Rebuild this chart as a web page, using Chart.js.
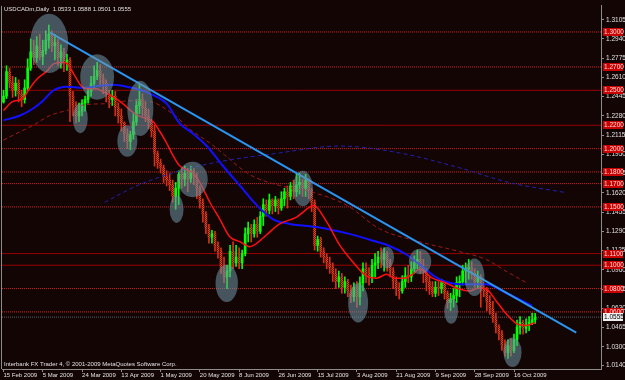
<!DOCTYPE html>
<html lang="en">
<head>
<meta charset="UTF-8">
<title>USDCADm,Daily</title>
<script src="https://cdn.jsdelivr.net/npm/chart.js"></script>
<style>
  html, body { margin: 0; padding: 0; background: #140505; }
  canvas { display: block; }
</style>
</head>
<body>
<canvas id="chart" width="625" height="380"></canvas>
<script>
// x axis labels, one every 13 bars
const dateLabels = ['15 Feb 2009', '5 Mar 2009', '24 Mar 2009', '13 Apr 2009', '1 May 2009', '20 May 2009',
  '8 Jun 2009', '26 Jun 2009', '15 Jul 2009', '3 Aug 2009', '21 Aug 2009', '9 Sep 2009', '28 Sep 2009', '16 Oct 2009'];
const priceTicks = [1.3105, 1.2940, 1.2775, 1.2610, 1.2445, 1.2280, 1.2115, 1.1950, 1.1785, 1.1620,
  1.1455, 1.1290, 1.1125, 1.0960, 1.0795, 1.0630, 1.0465, 1.0300, 1.0140];

// daily bars (open of each bar = previous close)
const firstOpen = 1.240;
const closes = [
  1.245, 1.266, 1.257, 1.250, 1.256, 1.247, 1.242, 1.252, 1.269, 1.283,
  1.278, 1.288, 1.279, 1.284, 1.293, 1.298, 1.288, 1.291, 1.278, 1.283,
  1.274, 1.276, 1.245, 1.237, 1.228, 1.232, 1.239, 1.242, 1.249, 1.256,
  1.262, 1.267, 1.261, 1.256, 1.247, 1.242, 1.245, 1.235, 1.228, 1.222,
  1.213, 1.206, 1.212, 1.223, 1.237, 1.242, 1.235, 1.228, 1.223, 1.215,
  1.196, 1.188, 1.184, 1.176, 1.173, 1.169, 1.159, 1.166, 1.178, 1.174,
  1.179, 1.174, 1.181, 1.176, 1.166, 1.154, 1.144, 1.132, 1.124, 1.127,
  1.117, 1.112, 1.098, 1.090, 1.095, 1.112, 1.102, 1.107, 1.102, 1.110,
  1.127, 1.132, 1.127, 1.135, 1.129, 1.142, 1.152, 1.147, 1.156, 1.151,
  1.156, 1.149, 1.157, 1.163, 1.159, 1.168, 1.163, 1.169, 1.171, 1.166,
  1.173, 1.164, 1.154, 1.117, 1.122, 1.112, 1.107, 1.102, 1.098, 1.093,
  1.086, 1.090, 1.081, 1.086, 1.078, 1.073, 1.081, 1.073, 1.085, 1.097,
  1.093, 1.090, 1.100, 1.102, 1.107, 1.105, 1.110, 1.102, 1.095, 1.086,
  1.080, 1.078, 1.086, 1.091, 1.090, 1.097, 1.102, 1.105, 1.098, 1.095,
  1.086, 1.081, 1.076, 1.081, 1.080, 1.085, 1.076, 1.068, 1.071, 1.074,
  1.085, 1.086, 1.095, 1.097, 1.098, 1.093, 1.086, 1.090, 1.081, 1.078,
  1.069, 1.063, 1.054, 1.047, 1.041, 1.032, 1.025, 1.031, 1.027, 1.036,
  1.047, 1.051, 1.046, 1.049, 1.051, 1.0533, 1.0555
];
const highs = [
  1.250, 1.271, 1.269, 1.262, 1.261, 1.259, 1.250, 1.259, 1.277, 1.294,
  1.293, 1.296, 1.298, 1.293, 1.301, 1.306, 1.301, 1.298, 1.294, 1.289,
  1.286, 1.281, 1.278, 1.249, 1.240, 1.239, 1.242, 1.245, 1.252, 1.262,
  1.271, 1.274, 1.272, 1.264, 1.259, 1.250, 1.250, 1.249, 1.239, 1.234,
  1.223, 1.217, 1.215, 1.230, 1.242, 1.256, 1.247, 1.240, 1.234, 1.225,
  1.220, 1.198, 1.191, 1.186, 1.181, 1.179, 1.173, 1.171, 1.181, 1.183,
  1.185, 1.183, 1.185, 1.183, 1.179, 1.168, 1.157, 1.146, 1.135, 1.130,
  1.129, 1.120, 1.115, 1.107, 1.100, 1.117, 1.120, 1.117, 1.115, 1.113,
  1.132, 1.137, 1.135, 1.139, 1.141, 1.146, 1.157, 1.156, 1.161, 1.157,
  1.159, 1.157, 1.163, 1.166, 1.168, 1.171, 1.173, 1.178, 1.179, 1.174,
  1.178, 1.174, 1.166, 1.156, 1.125, 1.124, 1.115, 1.110, 1.107, 1.102,
  1.097, 1.095, 1.093, 1.090, 1.088, 1.083, 1.085, 1.086, 1.090, 1.102,
  1.102, 1.098, 1.105, 1.110, 1.112, 1.115, 1.115, 1.112, 1.105, 1.098,
  1.090, 1.085, 1.091, 1.098, 1.100, 1.103, 1.108, 1.113, 1.112, 1.105,
  1.097, 1.090, 1.086, 1.086, 1.086, 1.088, 1.086, 1.078, 1.076, 1.080,
  1.090, 1.091, 1.100, 1.102, 1.105, 1.103, 1.097, 1.095, 1.092, 1.085,
  1.081, 1.074, 1.069, 1.059, 1.049, 1.044, 1.036, 1.036, 1.037, 1.041,
  1.053, 1.056, 1.053, 1.054, 1.056, 1.059, 1.0588
];
const lows = [
  1.239, 1.243, 1.252, 1.244, 1.245, 1.240, 1.236, 1.239, 1.250, 1.267,
  1.272, 1.274, 1.276, 1.272, 1.281, 1.286, 1.283, 1.276, 1.271, 1.269,
  1.266, 1.267, 1.223, 1.228, 1.222, 1.223, 1.228, 1.232, 1.239, 1.245,
  1.252, 1.259, 1.254, 1.247, 1.240, 1.235, 1.237, 1.228, 1.222, 1.215,
  1.206, 1.200, 1.199, 1.208, 1.220, 1.230, 1.228, 1.223, 1.217, 1.210,
  1.185, 1.183, 1.179, 1.171, 1.168, 1.164, 1.154, 1.148, 1.152, 1.166,
  1.168, 1.163, 1.171, 1.169, 1.157, 1.149, 1.137, 1.127, 1.119, 1.119,
  1.112, 1.106, 1.093, 1.085, 1.080, 1.090, 1.097, 1.099, 1.097, 1.097,
  1.108, 1.120, 1.120, 1.124, 1.124, 1.127, 1.134, 1.142, 1.144, 1.144,
  1.146, 1.144, 1.147, 1.151, 1.149, 1.156, 1.157, 1.159, 1.161, 1.159,
  1.159, 1.157, 1.146, 1.113, 1.112, 1.107, 1.102, 1.097, 1.093, 1.086,
  1.080, 1.081, 1.076, 1.076, 1.073, 1.068, 1.069, 1.064, 1.066, 1.078,
  1.085, 1.083, 1.085, 1.090, 1.097, 1.098, 1.095, 1.095, 1.090, 1.080,
  1.074, 1.071, 1.076, 1.081, 1.085, 1.086, 1.093, 1.097, 1.093, 1.085,
  1.078, 1.075, 1.073, 1.073, 1.074, 1.076, 1.071, 1.063, 1.061, 1.064,
  1.068, 1.073, 1.083, 1.085, 1.088, 1.088, 1.081, 1.080, 1.064, 1.073,
  1.061, 1.058, 1.051, 1.042, 1.036, 1.027, 1.022, 1.020, 1.022, 1.025,
  1.031, 1.041, 1.041, 1.042, 1.044, 1.049, 1.0501
];

// indicator lines: [bar, price]
const fastMA = [[0, 1.2327], [3, 1.2403], [6.4, 1.2428], [8.1, 1.2496], [11.1, 1.2597], [14.4, 1.2665],
  [16.4, 1.2724], [19.7, 1.2741], [21.3, 1.2724], [23.6, 1.2623], [26, 1.2530], [27.9, 1.2513],
  [30.9, 1.2513], [32.9, 1.2488], [36.2, 1.2445], [39.5, 1.2386], [42.5, 1.2318], [45.1, 1.2276],
  [49.4, 1.2234], [51.7, 1.2149], [54, 1.2048], [56, 1.1946], [58.3, 1.1853], [62.6, 1.1794],
  [65, 1.1709], [68.3, 1.1540], [71.6, 1.1396], [74.9, 1.1244], [78.2, 1.1202], [81.5, 1.1159],
  [84.1, 1.1193], [87.1, 1.1261], [91.4, 1.1354], [97, 1.1413], [101.3, 1.1498], [102.6, 1.1515],
  [107, 1.1371], [111.2, 1.1176], [115.5, 1.1032], [120.2, 1.0906], [123.5, 1.0889], [126.8, 1.0922],
  [129.4, 1.0889], [132.7, 1.0889], [135.4, 1.0922], [137.7, 1.0965], [142, 1.0889], [146.6, 1.0846],
  [150.9, 1.0796], [154.2, 1.0779], [157.5, 1.0804], [159.8, 1.0796], [163.1, 1.0694], [166.4, 1.0584],
  [169.8, 1.0500], [173.1, 1.0483], [176, 1.0508]];
const midMA = [[0, 1.2242], [5.5, 1.2284], [9.8, 1.2344], [13.1, 1.2411], [16.4, 1.2496], [21, 1.2530],
  [26.3, 1.2521], [31.9, 1.2538], [36.2, 1.2547], [40.8, 1.2530], [45.1, 1.2504], [48.4, 1.2471],
  [54, 1.2386], [58.3, 1.2217], [62.6, 1.2132], [67.3, 1.2022], [72.6, 1.1853], [78.2, 1.1684],
  [83.8, 1.1515], [89.1, 1.1396], [94.7, 1.1354], [103.6, 1.1328], [114.5, 1.1269], [121.2, 1.1219],
  [126.8, 1.1176], [133.4, 1.1092], [137.7, 1.1007], [144.3, 1.0880], [150.9, 1.0838], [159.8, 1.0838],
  [166.4, 1.0762], [175, 1.0652]];
const slowMA = [[0, 1.2073], [4.5, 1.2132], [9.8, 1.2200], [15.4, 1.2284], [21, 1.2327], [27.6, 1.2378],
  [35.2, 1.2386], [41.8, 1.2411], [48.4, 1.2403], [56.7, 1.2284], [61.7, 1.2166], [68.3, 1.2048],
  [73.2, 1.1946], [81.5, 1.1777], [91.4, 1.1684], [102.3, 1.1625], [113.6, 1.1515], [124.5, 1.1312],
  [137.7, 1.1202], [150.9, 1.1117], [159.8, 1.1049], [166.4, 1.0948], [173.4, 1.0846]];
const longMA = [[33.5, 1.1540], [45.1, 1.1692], [65, 1.1853], [91.4, 1.1963], [111.2, 1.2022],
  [131.1, 1.1963], [150.9, 1.1836], [167.4, 1.1709], [185.6, 1.1625]];
const trendLine = [[15.4, 1.2995], [189.6, 1.0423]];

const levels = [1.30, 1.27, 1.25, 1.22, 1.20, 1.18, 1.17, 1.15, 1.11, 1.10, 1.08, 1.06];
const solidLevels = [1.25, 1.22, 1.11, 1.10];
const lastPrice = 1.0555;
const headerQuote = ['1.0533', '1.0588', '1.0501', '1.0555'];

// marked zones: [bar, price, half width in bars, half height in price]
const circles = [
  [15.1, 1.2902, 6.3, 0.0254], [31.0, 1.2614, 5.6, 0.0195], [25.4, 1.2259, 2.5, 0.0127],
  [45.3, 1.2344, 4.3, 0.0237], [41.0, 1.2065, 3.3, 0.0135], [62.6, 1.1735, 5.0, 0.0152],
  [57.3, 1.1481, 2.3, 0.0118], [73.9, 1.0846, 3.7, 0.0161], [99.1, 1.1658, 3.3, 0.0152],
  [117.4, 1.0677, 3.3, 0.0169], [127.0, 1.1066, 2.3, 0.0093], [137.9, 1.1032, 3.7, 0.0110],
  [148.2, 1.0609, 2.3, 0.0110], [155.9, 1.0897, 3.3, 0.0161], [168.5, 1.0254, 3.0, 0.0127]
];

const FONT = "'Liberation Sans', Arial, sans-serif";
const X_MIN = -0.5, X_MAX = 197.8;

const canvas = document.getElementById('chart');
const ctx = canvas.getContext('2d');

// dithered red for bear candles
const pc = document.createElement('canvas');
pc.width = 2; pc.height = 2;
const pctx = pc.getContext('2d');
pctx.fillStyle = '#ee4420'; pctx.fillRect(0, 0, 2, 2);
pctx.fillStyle = '#7a1a0c'; pctx.fillRect(1, 0, 1, 1); pctx.fillRect(0, 1, 1, 1);
const bearFill = ctx.createPattern(pc, 'repeat');

const opens = closes.map((c, i) => i === 0 ? firstOpen : closes[i - 1]);
const up = closes.map((c, i) => c >= opens[i]);
const toXY = pts => pts.map(p => ({ x: p[0], y: p[1] }));

const datasets = [];
levels.forEach(lv => {
    const solid = solidLevels.includes(lv);
    datasets.push({
        type: 'line', data: [{ x: X_MIN, y: lv }, { x: X_MAX, y: lv }],
        borderColor: solid ? '#960000' : '#cc2020', borderWidth: 1,
        borderDash: solid ? [] : [1, 1], pointRadius: 0, order: 10
    });
});
datasets.push({
    type: 'line', data: [{ x: X_MIN, y: lastPrice }, { x: X_MAX, y: lastPrice }],
    borderColor: '#5a5f6a', borderWidth: 1, borderDash: [1, 1], pointRadius: 0, order: 9
});
// wicks
datasets.push({
    type: 'bar', data: closes.map((c, i) => ({ x: i, y: [lows[i], highs[i]] })),
    backgroundColor: up.map(u => u ? '#00ff00' : '#d83018'),
    barThickness: 1, grouped: false, order: 6
});
// bodies
datasets.push({
    type: 'bar', data: closes.map((c, i) => ({ x: i, y: [opens[i], c] })),
    backgroundColor: up.map(u => u ? '#00ff00' : bearFill),
    barThickness: 2, minBarLength: 1, grouped: false, order: 5
});

const maLine = (pts, color, width, dash, order) => ({
    type: 'line', data: toXY(pts), borderColor: color, borderWidth: width, borderDash: dash,
    pointRadius: 0, cubicInterpolationMode: 'monotone', order: order
});
datasets.push(maLine(longMA, '#2020b0', 1, [4, 3], 4));
datasets.push(maLine(slowMA, '#a01818', 1, [4, 3], 4));
datasets.push(maLine(midMA, '#1010ff', 2, [], 3));
datasets.push(maLine(fastMA, '#ff1010', 1.5, [], 2));
datasets.push({
    type: 'line', data: toXY(trendLine), borderColor: '#2a95f0', borderWidth: 2,
    pointRadius: 0, order: 1
});

const chrome = {
    id: 'chrome',
    beforeDraw(chart) {
        const c = chart.ctx;
        c.save();
        c.fillStyle = '#140505';
        c.fillRect(0, 0, chart.width, chart.height);
        c.restore();
    },
    afterDatasetsDraw(chart) {
        const c = chart.ctx, a = chart.chartArea, x = chart.scales.x, y = chart.scales.y;
        c.save();
        c.beginPath();
        c.rect(a.left, a.top, a.right - a.left, a.bottom - a.top);
        c.clip();
        c.fillStyle = 'rgba(110,150,165,0.55)';
        circles.forEach(([b, p, rb, rp]) => {
            const cx = x.getPixelForValue(b), cy = y.getPixelForValue(p);
            const rx = x.getPixelForValue(b + rb) - cx, ry = y.getPixelForValue(p - rp) - cy;
            c.beginPath();
            c.ellipse(cx, cy, rx, ry, 0, 0, Math.PI * 2);
            c.fill();
        });
        c.restore();
    },
    afterDraw(chart) {
        const c = chart.ctx, a = chart.chartArea, y = chart.scales.y;
        c.save();
        // left frame line
        c.strokeStyle = '#8c8c8c';
        c.lineWidth = 1;
        c.beginPath();
        c.moveTo(1.5, a.top);
        c.lineTo(1.5, a.bottom);
        c.stroke();

        // price boxes on the axis
        c.font = '6.5px ' + FONT;
        c.textAlign = 'left';
        c.textBaseline = 'middle';
        levels.forEach(lv => {
            const py = Math.round(y.getPixelForValue(lv));
            c.fillStyle = '#c80000';
            c.fillRect(a.right + 2, py - 4, 20, 8);
            c.fillStyle = '#ffd8d8';
            c.fillText(lv.toFixed(4), a.right + 3, py);
        });
        const ly = Math.round(y.getPixelForValue(lastPrice));
        c.fillStyle = '#f0f0f0';
        c.fillRect(a.right + 2, ly - 4, 20, 8);
        c.fillStyle = '#000000';
        c.fillText(lastPrice.toFixed(4), a.right + 3, ly);

        // header and footer text
        c.font = '6px ' + FONT;
        c.textBaseline = 'alphabetic';
        c.fillStyle = '#e0e0e0';
        c.fillText('USDCADm,Daily  ' + headerQuote.join(' '), 4, 11);
        c.fillText('Interbank FX Trader 4, \u00a9 2001-2009 MetaQuotes Software Corp.', 4, 366);
        c.restore();
    }
};

new Chart(canvas, {
    type: 'line',
    data: { datasets: datasets },
    options: {
        responsive: false,
        animation: false,
        events: [],
        layout: { padding: { left: 2, top: 1, right: 0, bottom: 0 } },
        plugins: { legend: { display: false }, tooltip: { enabled: false } },
        scales: {
            x: {
                type: 'linear', min: X_MIN, max: X_MAX, offset: false,
                grid: { drawOnChartArea: false, drawTicks: true, tickLength: 3, color: '#8c8c8c', offset: false },
                border: { display: true, color: '#8c8c8c' },
                ticks: {
                    font: { family: FONT, size: 6 }, color: '#e0e0e0', align: 'start', padding: 0,
                    maxRotation: 0, autoSkip: false,
                    callback: (v, i) => dateLabels[i]
                },
                afterBuildTicks: axis => { axis.ticks = dateLabels.map((_, k) => ({ value: k * 13 })); },
                afterFit: axis => { axis.height = 11; }
            },
            y: {
                type: 'linear', position: 'right', min: 1.01103, max: 1.32235,
                grid: { drawOnChartArea: false, drawTicks: true, tickLength: 3, color: '#8c8c8c' },
                border: { display: true, color: '#8c8c8c' },
                ticks: {
                    font: { family: FONT, size: 6.5 }, color: '#e0e0e0', padding: 2, autoSkip: false,
                    callback: v => v.toFixed(4)
                },
                afterBuildTicks: axis => { axis.ticks = priceTicks.map(v => ({ value: v })); },
                afterFit: axis => { axis.width = 24; }
            }
        }
    },
    plugins: [chrome]
});
</script>
</body>
</html>
